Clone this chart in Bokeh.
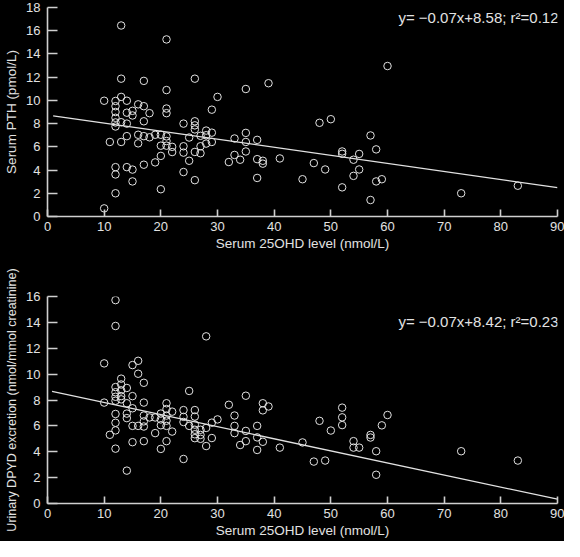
from bokeh.plotting import figure
from bokeh.layouts import column
from bokeh.models import Label, Range1d, FixedTicker
from bokeh.embed import file_html
from bokeh.resources import INLINE

# ---------------- data ----------------
x_ticks = [0, 10, 20, 30, 40, 50, 60, 70, 80, 90]
pth_ticks = [0, 2, 4, 6, 8, 10, 12, 14, 16, 18]
dpyd_ticks = [0, 2, 4, 6, 8, 10, 12, 14, 16]

x_label = "Serum 25OHD level (nmol/L)"
pth_label = "Serum PTH (pmol/L)"
dpyd_label = "Urinary DPYD excretion (nmol/mmol creatinine)"
pth_eq = "y= \u22120.07x+8.58; r\u00b2=0.12"
dpyd_eq = "y= \u22120.07x+8.42; r\u00b2=0.23"

pth_x = [13, 21, 13, 17, 26, 39, 35, 21, 10, 13, 14,
         12, 12, 12, 12, 12, 12,
         16, 15, 15, 14, 17, 18, 17, 21, 21, 29, 30, 13, 14, 24,
         26, 26, 26, 28, 29, 35, 14, 16, 17, 19, 20, 18, 21, 21, 21,
         25, 27, 28, 33, 37, 35, 29, 11, 13, 16, 20, 28, 22, 22,
         24, 24, 27, 26, 27, 35, 33, 20, 32, 34, 25, 19, 17, 37,
         38, 38, 41, 12, 12, 14, 15, 24, 37, 26, 15, 20, 12, 10,
         60, 48, 50, 57, 58, 52, 52, 55, 54, 47, 49, 55, 54, 45,
         58, 59, 52, 57, 73, 83]
pth_y = [16.45, 15.25, 11.87, 11.68, 11.87, 11.48, 10.98, 10.89, 9.97, 10.3, 9.97,
         9.95, 9.5, 9.0, 8.5, 8.1, 7.75,
         9.66, 9.1, 8.7, 8.94, 9.5, 8.9, 8.2, 9.3, 8.9, 9.2, 10.3, 8.12, 8.0, 8.0,
         8.2, 7.85, 7.5, 7.4, 7.22, 7.2, 6.92, 7.04, 6.92, 7.04, 7.04, 6.82, 6.9, 6.5, 6.1,
         6.8, 6.95, 7.0, 6.72, 6.6, 6.42, 6.42, 6.42, 6.42, 6.3, 6.1, 6.28, 6.0, 5.55,
         6.05, 5.5, 6.05, 5.56, 5.45, 5.6, 5.3, 5.22, 4.69, 4.89, 4.8, 4.66, 4.46, 4.94,
         4.8, 4.55, 5.0, 4.25, 3.62, 4.25, 4.04, 3.83, 3.32, 3.13, 3.02, 2.35, 2.0, 0.7,
         12.96, 8.07, 8.38, 6.98, 5.78, 5.6, 5.4, 5.39, 4.89, 4.6, 4.05, 4.05, 3.5, 3.21,
         3.02, 3.21, 2.51, 1.42, 2.0, 2.65]
pth_fit_x = [1, 90]
pth_fit_y = [8.67, 2.49]

dpyd_x = [12, 12, 28, 10, 16, 15, 16, 17, 13, 13, 13, 13, 13, 12, 12, 12,
          14, 15, 25, 35, 10, 12, 14, 17, 21, 21, 32, 38, 38, 39, 15, 24,
          26, 22, 14, 14, 12, 17, 17, 17, 18, 19, 20, 20, 20, 21, 21, 21,
          24, 26, 30, 33, 29, 24, 25, 26, 26, 26, 26, 27, 27, 27, 28, 33,
          37, 12, 15, 16, 22, 19, 12, 11, 33, 35, 37, 29, 35, 38, 34, 15,
          17, 21, 28, 20, 12, 37, 41, 24, 14,
          52, 52, 52, 60, 48, 59, 50, 57, 57, 45, 54, 54, 55, 58, 73, 47,
          49, 83, 58]
dpyd_y = [15.72, 13.72, 12.92, 10.83, 11.03, 10.7, 10.03, 9.33, 9.65, 9.2, 8.75, 8.3, 8.05, 9.0, 8.6, 8.25,
          8.93, 8.3, 8.7, 8.33, 7.8, 7.94, 7.75, 7.8, 7.75, 7.3, 7.63, 7.75, 7.2, 7.5, 7.36, 7.22,
          7.22, 7.1, 6.95, 6.6, 6.92, 6.8, 6.35, 5.95, 6.65, 6.65, 6.95, 6.5, 6.05, 6.8, 6.4, 6.0,
          6.7, 6.72, 6.5, 6.8, 6.25, 6.3, 6.0, 6.1, 5.7, 5.35, 5.05, 5.7, 5.3, 5.0, 5.84, 6.0,
          6.0, 6.24, 6.0, 6.0, 5.56, 5.44, 5.65, 5.31, 5.44, 5.61, 5.11, 5.06, 4.82, 4.77, 4.52, 4.74,
          4.82, 4.82, 4.44, 4.22, 4.24, 4.14, 4.32, 3.44, 2.54,
          7.41, 6.66, 6.06, 6.84, 6.39, 6.04, 5.64, 5.3, 5.1, 4.72, 4.82, 4.32, 4.32, 4.04, 4.04, 3.24,
          3.32, 3.32, 2.22]
dpyd_fit_x = [0.8, 90]
dpyd_fit_y = [8.66, 0.33]

# ---------------- style ----------------
BG = "black"
FG = "#e2e2e2"
AX = "#cfcfcf"
FONT = "Liberation Sans"


def panel(xs, ys, fx, fy, ymax, yticks, ylab, ylab_size, eq, eq_y,
          height, b_top, b_bottom):
    p = figure(width=564, height=height, output_backend="svg", toolbar_location=None,
               x_range=Range1d(0, 90), y_range=Range1d(0, ymax),
               min_border_left=47, min_border_right=7,
               min_border_top=b_top, min_border_bottom=b_bottom)
    p.background_fill_color = BG
    p.border_fill_color = BG
    p.outline_line_color = None
    p.xgrid.visible = False
    p.ygrid.visible = False

    p.line(fx, fy, line_color=FG, line_width=1.3)
    p.scatter(xs, ys, size=7.5, marker="circle", fill_color=None,
              line_color=FG, line_width=1)

    for ax, ticks, tin in ((p.xaxis[0], x_ticks, 7), (p.yaxis[0], yticks, 10)):
        ax.ticker = FixedTicker(ticks=ticks)
        ax.minor_tick_line_color = None
        ax.axis_line_color = AX
        ax.axis_line_width = 1.6
        ax.major_tick_line_color = AX
        ax.major_tick_line_width = 1.6
        ax.major_tick_in = tin
        ax.major_tick_out = 0
        ax.major_label_text_color = FG
        ax.major_label_text_font = FONT
        ax.major_label_text_font_size = "13px"
        ax.axis_label_text_color = FG
        ax.axis_label_text_font = FONT
        ax.axis_label_text_font_style = "normal"
    p.xaxis.axis_label = x_label
    p.yaxis.axis_label = ylab
    p.xaxis.axis_label_text_font_size = "13.5px"
    p.yaxis.axis_label_text_font_size = ylab_size
    p.xaxis.major_label_standoff = 5
    p.xaxis.axis_label_standoff = 2
    p.yaxis.major_label_standoff = 7
    p.yaxis.axis_label_standoff = 4

    p.add_layout(Label(x=90, y=eq_y, text=eq, text_align="right",
                       text_baseline="middle", x_offset=1,
                       text_color=FG, text_font=FONT, text_font_size="15px"))
    return p


p1 = panel(pth_x, pth_y, pth_fit_x, pth_fit_y, 18, pth_ticks, pth_label, "13.5px",
           pth_eq, 17.15, 262, 7, 46)
p2 = panel(dpyd_x, dpyd_y, dpyd_fit_x, dpyd_fit_y, 16, dpyd_ticks, dpyd_label, "12.5px",
           dpyd_eq, 14.1, 279, 34, 38)

layout = column(p1, p2, spacing=0, styles={"background-color": "black"})
open("out.html", "w").write(file_html(layout, INLINE))
